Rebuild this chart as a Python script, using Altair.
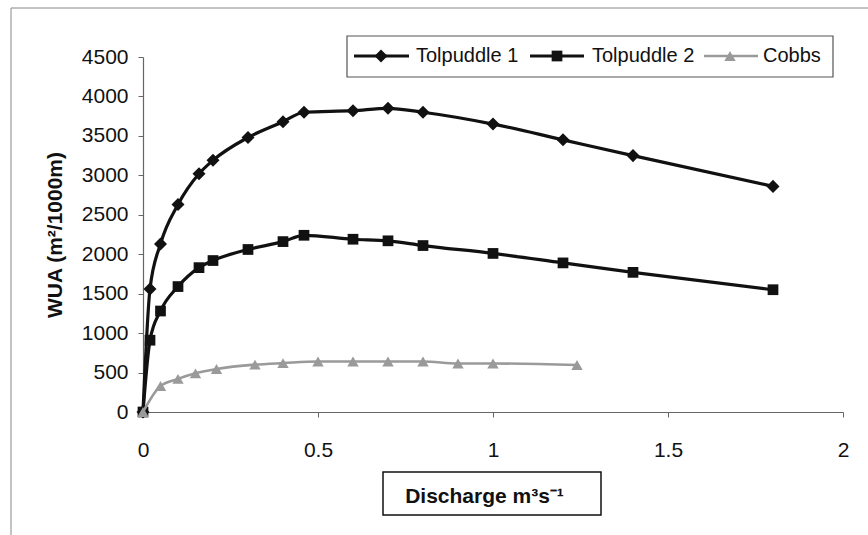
import altair as alt
import pandas as pd

# ---- data ----
t_x = [0, 0.02, 0.05, 0.1, 0.16, 0.2, 0.3, 0.4, 0.46, 0.6, 0.7, 0.8, 1.0, 1.2, 1.4, 1.8]
tolpuddle1 = [0, 1560, 2130, 2630, 3020, 3190, 3480, 3680, 3800, 3820, 3850, 3800, 3650, 3450, 3250, 2860]
tolpuddle2 = [0, 910, 1280, 1590, 1830, 1920, 2060, 2160, 2240, 2190, 2170, 2110, 2010, 1890, 1770, 1550]
c_x = [0, 0.05, 0.1, 0.15, 0.21, 0.32, 0.4, 0.5, 0.6, 0.7, 0.8, 0.9, 1.0, 1.24]
cobbs = [0, 330, 420, 490, 545, 600, 620, 640, 640, 640, 640, 615, 615, 595]

series_names = ["Tolpuddle 1", "Tolpuddle 2", "Cobbs"]
x_ticks = [0, 0.5, 1, 1.5, 2]
y_ticks = [0, 500, 1000, 1500, 2000, 2500, 3000, 3500, 4000, 4500]

FONT = "Liberation Sans"
W, H = 700, 355
LEFT, TOP = 143, 57

xscale = alt.Scale(domain=[0, 2], nice=False)
yscale = alt.Scale(domain=[0, 4500], nice=False)

common = dict(grid=False, domainColor="#666666", domainWidth=1.2, tickColor="#666666", tickSize=5,
              labelFont=FONT, labelFontSize=21, labelColor="#111111", labelFlush=False,
              labelOverlap=False,
              titleFont=FONT, titleFontSize=21, titleFontWeight="bold", titleColor="#111111")

xaxis = alt.Axis(values=x_ticks, format="~g", title="Discharge m³s⁻¹",
                 titleX=341, titleY=90, titleAlign="center", titleBaseline="alphabetic",
                 labelPadding=22, **common)
yaxis = alt.Axis(values=y_ticks, format="d", title="WUA (m²/1000m)",
                 titleX=-88, titleY=H / 2, titleAlign="center", titleBaseline="middle",
                 titleAngle=270, labelPadding=10, **common)

styles = [
    dict(shape="diamond", size=170, color="#111111", line="#111111", lw=3.2),
    dict(shape="square", size=115, color="#111111", line="#111111", lw=3.2),
    dict(shape="triangle-up", size=130, color="#9a9a9a", line="#9a9a9a", lw=2.6),
]
frames = [
    pd.DataFrame({"q": t_x, "w": tolpuddle1}),
    pd.DataFrame({"q": t_x, "w": tolpuddle2}),
    pd.DataFrame({"q": c_x, "w": cobbs}),
]

layers = []
one = pd.DataFrame({"k": [0]})

# outer frame
layers.append(alt.Chart(one).mark_rect(fillOpacity=0, stroke="#888888", strokeWidth=1).encode(
    x=alt.value(11 - LEFT), x2=alt.value(880 - LEFT), y=alt.value(8 - TOP), y2=alt.value(560 - TOP)))
# x-title box
layers.append(alt.Chart(one).mark_rect(fillOpacity=0, stroke="#111111", strokeWidth=1.5).encode(
    x=alt.value(383 - LEFT), x2=alt.value(601 - LEFT), y=alt.value(472 - TOP), y2=alt.value(515 - TOP)))

enc_x = alt.X("q:Q", scale=xscale, axis=xaxis)
enc_y = alt.Y("w:Q", scale=yscale, axis=yaxis)
for df, st in zip(frames, styles):
    layers.append(alt.Chart(df).mark_line(interpolate="monotone", color=st["line"],
                                          strokeWidth=st["lw"]).encode(x=enc_x, y=enc_y))
    layers.append(alt.Chart(df).mark_point(shape=st["shape"], size=st["size"], filled=True,
                                           color=st["color"], opacity=1).encode(x=enc_x, y=enc_y))

# legend box and entries
layers.append(alt.Chart(one).mark_rect(fillOpacity=0, stroke="#555555", strokeWidth=1.2).encode(
    x=alt.value(347 - LEFT), x2=alt.value(833 - LEFT), y=alt.value(36 - TOP), y2=alt.value(77 - TOP)))
leg_line = [(354, 409), (530, 584), (704, 758)]
leg_sym = [381, 557, 730]
leg_txt = [416, 592, 763]
ly = 56 - TOP
for name, st, (a, b), sx, tx in zip(series_names, styles, leg_line, leg_sym, leg_txt):
    layers.append(alt.Chart(one).mark_rule(color=st["line"], strokeWidth=st["lw"]).encode(
        x=alt.value(a - LEFT), x2=alt.value(b - LEFT), y=alt.value(ly)))
    layers.append(alt.Chart(one).mark_point(shape=st["shape"], size=st["size"], filled=True,
                                            color=st["color"], opacity=1).encode(
        x=alt.value(sx - LEFT), y=alt.value(ly)))
    layers.append(alt.Chart(pd.DataFrame({"t": [name]})).mark_text(
        align="left", baseline="middle", font=FONT, fontSize=20, color="#111111").encode(
        x=alt.value(tx - LEFT), y=alt.value(ly), text="t:N"))

chart = alt.layer(*layers).properties(
    width=W, height=H,
    background="white",
    autosize=alt.AutoSizeParams(type="none"),
    padding={"left": LEFT, "top": TOP, "right": 868 - LEFT - W, "bottom": 535 - TOP - H},
).configure_view(strokeWidth=0, stroke="transparent")

chart.save("out.html", embed_options={"renderer": "svg", "actions": False})
